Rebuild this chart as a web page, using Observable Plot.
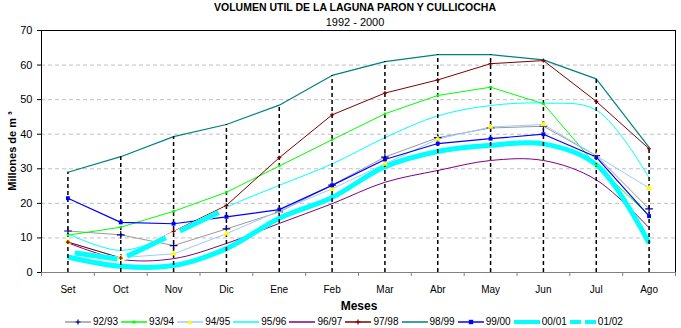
<!DOCTYPE html>
<html><head><meta charset="utf-8">
<script src="https://cdn.jsdelivr.net/npm/d3@7"></script>
<script src="https://cdn.jsdelivr.net/npm/@observablehq/plot@0.6"></script>
<style>
body{margin:0;background:#fff;font-family:"Liberation Sans",Arial,sans-serif;color:#000;}
#wrap{position:relative;width:681px;height:328px;overflow:hidden;background:#fff;}
#chart{position:absolute;left:0;top:0;}
.t{position:absolute;white-space:nowrap;line-height:1;}
#title{left:0;width:710px;top:2px;text-align:center;font-weight:bold;font-size:10.5px;}
#subtitle{left:0;width:710px;top:17px;text-align:center;font-size:11px;}
#xlabel{left:0;width:718px;top:300px;text-align:center;font-weight:bold;font-size:12px;}
#ylabel{left:12px;top:151px;transform:translate(-50%,-50%) rotate(-90deg);font-weight:bold;font-size:11px;}
#legend{position:absolute;left:65px;top:316px;display:flex;}
.li{width:56.1px;display:flex;align-items:center;font-size:10px;}
.li svg{display:block;margin-right:2px;}
</style></head>
<body>
<div id="wrap">
  <div id="chart"></div>
  <div class="t" id="title">VOLUMEN UTIL DE LA LAGUNA PARON Y CULLICOCHA</div>
  <div class="t" id="subtitle">1992 - 2000</div>
  <div class="t" id="ylabel">Millones de m ³</div>
  <div class="t" id="xlabel">Meses</div>
  <div id="legend"></div>
</div>
<script>
// ---- data ----
const months = ["Set","Oct","Nov","Dic","Ene","Feb","Mar","Abr","May","Jun","Jul","Ago"];
const yTicks = [0, 10, 20, 30, 40, 50, 60, 70];
const gridVals = [10, 20, 30, 40, 50, 60];
const seriesNames = ["92/93","93/94","94/95","95/96","96/97","97/98","98/99","99/00","00/01","01/02"];
const v9293 = [12.0, 10.9, 7.8, 12.6, 17.5, 25.3, 33.4, 39.0, 41.8, 42.3, 33.8, 18.4];
const v9394 = [10.8, 13.1, 17.7, 23.2, 30.8, 38.4, 45.9, 51.2, 53.6, 48.8, 31.0, 16.5];
const v9495 = [8.8, 4.3, 5.4, 11.2, 17.8, 24.2, 31.4, 38.6, 42.1, 42.8, 33.8, 24.4];
const v9596 = [11.2, 6.4, 11.3, 18.9, 25.2, 31.4, 39.0, 45.3, 48.3, 49.0, 47.0, 27.4];
const v9697 = [8.6, 3.8, 4.0, 8.4, 14.2, 19.9, 26.1, 29.5, 32.4, 32.4, 26.8, 12.9];
const v9798 = [8.8, 4.2, 11.9, 19.4, 33.2, 45.6, 51.9, 55.7, 60.4, 61.3, 49.5, 35.8];
const v9899 = [29.0, 33.5, 39.3, 42.8, 48.4, 57.0, 61.0, 63.0, 63.0, 61.5, 56.0, 36.2];
const v9900 = [21.5, 14.5, 14.1, 16.1, 18.2, 25.2, 32.7, 37.3, 38.7, 40.0, 33.4, 16.3];
const v0001 = [4.5, 1.8, 2.0, 6.9, 15.7, 21.7, 30.6, 35.0, 36.8, 37.2, 31.2, 8.5];
const v0102 = [5.9, 3.8, 11.1, 18.4];

// ---- styles ----
const values = [v9293, v9394, v9495, v9596, v9697, v9798, v9899, v9900, v0001, v0102];
const styles = [
  {color:"#999999", width:1, curve:"linear", marker:{symbol:"plus", stroke:"#000080", r:2.6}},
  {color:"#00ff00", width:1, curve:"linear", marker:{symbol:"square", fill:"#00ff00", r:1.4}},
  {color:"#99ccff", width:1, curve:"linear", marker:{symbol:"triangle", fill:"#ffff00", r:2.3}},
  {color:"#00ffff", width:1, curve:"catmull-rom"},
  {color:"#800080", width:1, curve:"catmull-rom"},
  {color:"#800000", width:1, curve:"linear", marker:{symbol:"plus", stroke:"#800000", r:1.4}},
  {color:"#008080", width:1.2, curve:"linear"},
  {color:"#0000ff", width:1.2, curve:"linear", marker:{symbol:"square", fill:"#0000ff", r:2.2}},
  {color:"#00ffff", width:5, curve:"catmull-rom"},
  {color:"#00ffff", width:5, dashed:true}
];

const series = seriesNames.map((name, k) => ({
  name, ...styles[k],
  rows: values[k].map((v, i) => ({month: months[i], value: v, name}))
}));

const maxes = months.map((m, i) => ({month: m, top: d3.max(values, arr => arr[i] ?? -Infinity)}));

const mL = 41, mR = 6, W = 681;
const step = (W - mL - mR) / months.length;

const marks = [
  Plot.ruleY(gridVals, {stroke:"#c0c0c0", strokeDasharray:"4,3"})
];
series.forEach(s => {
  if (s.dashed) {
    const segs = s.rows.slice(1).map((r, i) => ({x1: s.rows[i].month, y1: s.rows[i].value, x2: r.month, y2: r.value}));
    marks.push(Plot.link(segs, {x1:"x1", y1:"y1", x2:"x2", y2:"y2", stroke:"white", strokeWidth:s.width, strokeLinecap:"butt"}));
    marks.push(Plot.link(segs, {x1:"x1", y1:"y1", x2:"x2", y2:"y2", stroke:s.color, strokeWidth:s.width, strokeLinecap:"butt", strokeDasharray:"0,7,43,40"}));
  } else {
    marks.push(Plot.line(s.rows, {x:"month", y:"value", stroke:s.color, strokeWidth:s.width, curve:s.curve, strokeLinecap:"butt", strokeLinejoin:"miter"}));
  }
});
marks.push(Plot.ruleX(maxes, {x:"month", y1:0, y2:"top", stroke:"black", strokeWidth:1.5, strokeDasharray:"4,3"}));
series.forEach(s => {
  if (s.marker) {
    const m = s.marker;
    marks.push(Plot.dot(s.rows, {x:"month", y:"value", symbol:m.symbol, r:m.r,
      fill: m.fill || "none", stroke: m.stroke || "none", strokeWidth: m.stroke ? 1.2 : 0}));
  }
});
marks.push(Plot.frame({stroke:"black"}));
marks.push(Plot.ruleY([0], {stroke:"#808080"}));
marks.push(Plot.axisY({ticks:yTicks, tickSize:4, tickPadding:5, fontSize:11, label:null}));
marks.push(Plot.axisX({tickSize:0, tickPadding:13, fontSize:10, label:null}));
marks.push(Plot.axisX({tickSize:4, dx:-step/2, tickFormat:() => "", stroke:"#808080", label:null}));
marks.push(Plot.axisX({ticks:[months[months.length-1]], tickSize:4, dx:step/2, tickFormat:() => "", stroke:"#808080", label:null}));

const chart = Plot.plot({
  width: W, height: 328,
  marginTop: 30, marginBottom: 56, marginLeft: mL, marginRight: mR,
  style: {fontFamily:"Liberation Sans, Arial, sans-serif", fontSize:"10px", background:"transparent", color:"black"},
  x: {type:"point", domain:months, padding:0.5, round:false},
  y: {domain:[0, 70]},
  marks
});
document.getElementById("chart").appendChild(chart);

// ---- legend ----
const legend = document.getElementById("legend");
series.forEach(s => {
  const item = document.createElement("div");
  item.className = "li";
  let mk = "";
  if (s.marker) {
    const m = s.marker;
    if (m.symbol === "plus") mk = `<path d="M13,1.5v5M10.5,4h5" stroke="${m.stroke}" stroke-width="1.2"/>`;
    else if (m.symbol === "square") mk = `<rect x="${13 - m.r}" y="${4 - m.r}" width="${2*m.r}" height="${2*m.r}" fill="${m.fill}"/>`;
    else if (m.symbol === "triangle") mk = `<path d="M13,1.5L15.5,6H10.5Z" fill="${m.fill}"/>`;
  }
  const dash = s.dashed ? ' stroke-dasharray="11,4"' : "";
  item.innerHTML = `<svg width="26" height="8"><line x1="0" x2="26" y1="4" y2="4" stroke="${s.color}" stroke-width="${s.width === 5 ? 4 : 1.5}"${dash}/>${mk}</svg><span>${s.name}</span>`;
  legend.appendChild(item);
});
</script>
</body></html>
